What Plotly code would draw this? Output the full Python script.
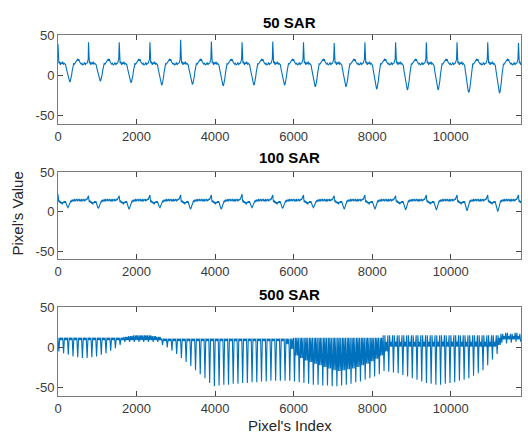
import plotly.graph_objects as go

# ---------------- shared axis data ----------------
N_PIXELS = 11790
X_TICKS = [0, 2000, 4000, 6000, 8000, 10000]
X_TICK_TEXT = ["0", "2000", "4000", "6000", "8000", "10000"]
Y_TICKS = [-50, 0, 50]
Y_TICK_TEXT = ["-50", "0", "50"]
TITLES = ["50 SAR", "100 SAR", "500 SAR"]
X_LABEL = "Pixel's Index"
Y_LABEL = "Pixel's Value"

# ---------------- 50 SAR (beat positions and per-beat values) ----------------
beat_pos = [0, 777, 1559, 2341, 3123, 3905, 4687, 5469, 6251, 7033, 7815, 8597, 9379, 10161, 10943, 11725]
sar50_peaks = [39, 41, 41, 41, 44, 42, 41, 42, 41, 40, 41, 41, 41, 41, 41, 40]
sar50_dips = [-8, -7, -9, -12, -11, -13, -12, -12, -14, -14, -17, -18, -18, -21, -22, 15]
# one beat: offset after the peak, level, share of the dip
sar50_beat_off = [0, 10, 22, 40, 60, 80, 100, 120, 140, 160, 180, 195, 210, 229, 250, 270, 285, 298,
                  312, 328, 345, 362, 380, 400, 420, 441, 460, 480, 500, 515, 530, 550, 570, 590,
                  610, 630, 654, 675, 695, 715, 739, 755, 770]
sar50_beat_lvl = [0, 22, 15, 17, 13, 16, 14, 17, 14, 15, 13, 15, 14, 15, 15, 15, 15, 15,
                  15, 15, 15, 15, 16, 16, 14, 16, 17, 18, 20, 19, 20, 17, 16, 14,
                  15, 13, 14, 16, 13, 15, 15, 17, 20]
sar50_beat_dip = [0, 0, 0, 0, 0, 0, 0, 0, 0, 0, 0, 0.08, 0.22, 0.45, 0.66, 0.84, 0.95, 1.0,
                  0.96, 0.84, 0.65, 0.4, 0.18, 0.05, 0, 0, 0, 0, 0, 0, 0, 0, 0, 0,
                  0, 0, 0, 0, 0, 0, 0, 0, 0]

# ---------------- 100 SAR ----------------
sar100_peaks = [22, 20, 20, 21, 21, 21, 22, 21, 21, 20, 21, 20, 21, 21, 21, 21]
sar100_dips = [5, 4, 3, 5, 3, 3, 5, 4, 5, 3, 3, 2, 2, 1, 0, 12]
sar100_beat_off = [0, 8, 20, 35, 50, 65, 80, 95, 110, 125, 140, 155, 170, 187, 205, 220, 238, 255,
                   270, 285, 300, 314, 330, 345, 360, 375, 390, 405, 420, 435, 450, 465, 480, 495,
                   510, 525, 540, 555, 570, 585, 600, 615, 630, 645, 660, 675, 690, 705, 720, 735,
                   750, 765, 775]
sar100_beat_lvl = [0, 16, 12, 14, 11, 13, 10, 12, 9, 12, 11, 13, 11, 13, 12, 12, 12, 12,
                   12, 12, 12, 12, 14, 12, 15, 13, 15, 13, 16, 13, 15, 14, 16, 13,
                   15, 14, 16, 13, 15, 13, 16, 13, 15, 14, 16, 13, 15, 14, 16, 15,
                   17, 18, 19]
sar100_beat_dip = [0, 0, 0, 0, 0, 0, 0, 0, 0, 0, 0, 0, 0, 0, 0.3, 0.6, 0.85, 1.0,
                   0.8, 0.5, 0.25, 0.1, 0, 0, 0, 0, 0, 0, 0, 0, 0, 0, 0, 0,
                   0, 0, 0, 0, 0, 0, 0, 0, 0, 0, 0, 0, 0, 0, 0, 0,
                   0, 0, 0]

# ---------------- 500 SAR (one entry per oscillation, 120 pixels apart) ----------------
SAR500_CYCLE = 120
sar500_top = ([12] * 14 + [13, 14, 15, 15, 15, 15, 14, 13] + [11] * 28 + [12] * 19
              + [15] * 25 + [17, 18, 17, 18, 17])
sar500_min = ([-5, -7, -9, -11, -12, -13, -13, -12, -11, -9, -7, -4, -1, 3]
              + [7] * 8
              + [3, 0, -4, -8, -13, -18, -23, -28, -33, -38, -44, -48, -47, -46, -46, -45, -45,
                 -44, -44, -43, -43, -42, -42, -41, -41, -41, -41, -41]
              + [-42, -43, -44, -45, -46, -46, -47, -47, -48, -48, -47, -46, -45, -43, -42, -40,
                 -38, -36, -33]
              + [-29, -30, -31, -32, -34, -36, -38, -40, -42, -44, -45, -46, -46, -45, -44, -43,
                 -41, -40, -38, -35, -32, -28, -22, -15, -8]
              + [6, 5, 6, 7, 7])
sar500_band_lo = ([9] * 14 + [9] * 8 + [8] * 26 + [4, -2]
                  + [-10, -13, -16, -18, -20, -22, -24, -26, -28, -29, -28, -27, -26, -24, -22,
                     -20, -17, -14, -10]
                  + [-5] + [1] * 23 + [3]
                  + [10] * 5)
sar500_band_hi = ([12] * 14 + [13, 14, 15, 15, 15, 15, 14, 13] + [11] * 28 + [12] * 19
                  + [7] * 24 + [12] + [14] * 5)
# where in each oscillation the line visits top / minimum / band
SAR500_SHAPE_OFF = [0, 22, 44, 62, 80, 100]
SAR500_SHAPE_KEY = ["top", "min", "top", "lo", "hi", "lo"]


def build_beats(peaks, dips, offs, lvls, dipw):
    xs, ys = [], []
    for p, pv, dv in zip(beat_pos, peaks, dips):
        for o, lv, w in zip(offs, lvls, dipw):
            x = p + o
            if x > N_PIXELS:
                break
            xs.append(x)
            ys.append(pv if o == 0 else lv + w * (dv - lv))
    return xs, ys


def build_500():
    xs, ys = [], []
    for k, (t, m, lo, hi) in enumerate(zip(sar500_top, sar500_min, sar500_band_lo, sar500_band_hi)):
        vals = {"top": t, "min": m, "lo": lo, "hi": hi}
        for o, key in zip(SAR500_SHAPE_OFF, SAR500_SHAPE_KEY):
            x = k * SAR500_CYCLE + o
            if x > N_PIXELS:
                break
            xs.append(x)
            ys.append(vals[key])
    return xs, ys


x1, y1 = build_beats(sar50_peaks, sar50_dips, sar50_beat_off, sar50_beat_lvl, sar50_beat_dip)
x2, y2 = build_beats(sar100_peaks, sar100_dips, sar100_beat_off, sar100_beat_lvl, sar100_beat_dip)
x3, y3 = build_500()

LINE_COLOR = "#0072BD"
FONT = "Liberation Sans, Arial, Helvetica, sans-serif"

fig = go.Figure()
for i, (xx, yy) in enumerate([(x1, y1), (x2, y2), (x3, y3)]):
    sfx = "" if i == 0 else str(i + 1)
    fig.add_trace(go.Scatter(x=xx, y=yy, mode="lines", xaxis="x" + sfx, yaxis="y" + sfx,
                             line=dict(color=LINE_COLOR, width=1.1), showlegend=False,
                             hoverinfo="skip"))

domains = [[0.7535, 1.0], [0.3795, 0.6205], [0.0, 0.2465]]
title_y = [1.036, 0.662, 0.2825]

axis_common = dict(showline=True, linecolor="#7a7a7a", linewidth=1, mirror="ticks",
                   ticks="inside", ticklen=5, tickcolor="#444444", tickwidth=1,
                   showgrid=False, zeroline=False, automargin=False,
                   tickfont=dict(family=FONT, size=13, color="#3a3a3a"))

layout = dict(width=528, height=435, autosize=False,
              margin=dict(l=58, r=7, t=35, b=39, pad=0, autoexpand=False),
              paper_bgcolor="white", plot_bgcolor="white",
              font=dict(family=FONT), annotations=[])
for i in range(3):
    sfx = "" if i == 0 else str(i + 1)
    layout["xaxis" + sfx] = dict(axis_common, domain=[0, 1], anchor="y" + sfx,
                                 range=[0, N_PIXELS], tickvals=X_TICKS, ticktext=X_TICK_TEXT)
    layout["yaxis" + sfx] = dict(axis_common, domain=domains[i], anchor="x" + sfx,
                                 range=[-60, 50], tickvals=Y_TICKS, ticktext=Y_TICK_TEXT)
    layout["annotations"].append(dict(text="<b>%s</b>" % TITLES[i], xref="paper", yref="paper",
                                      x=0.5, y=title_y[i], xanchor="center", yanchor="middle",
                                      showarrow=False,
                                      font=dict(family=FONT, size=15, color="#000000")))

layout["annotations"].append(dict(text=X_LABEL, xref="paper", yref="paper", x=0.5, y=-0.083,
                                  xanchor="center", yanchor="middle", showarrow=False,
                                  font=dict(family=FONT, size=15, color="#262626")))
layout["annotations"].append(dict(text=Y_LABEL, xref="paper", yref="paper", x=-0.0864, y=0.5055,
                                  xanchor="center", yanchor="middle", showarrow=False, textangle=-90,
                                  font=dict(family=FONT, size=15, color="#262626")))

fig.update_layout(layout)
fig.write_html("out.html", config={"displayModeBar": False},
               post_script="document.body.style.margin='0';document.body.style.overflow='hidden';")
